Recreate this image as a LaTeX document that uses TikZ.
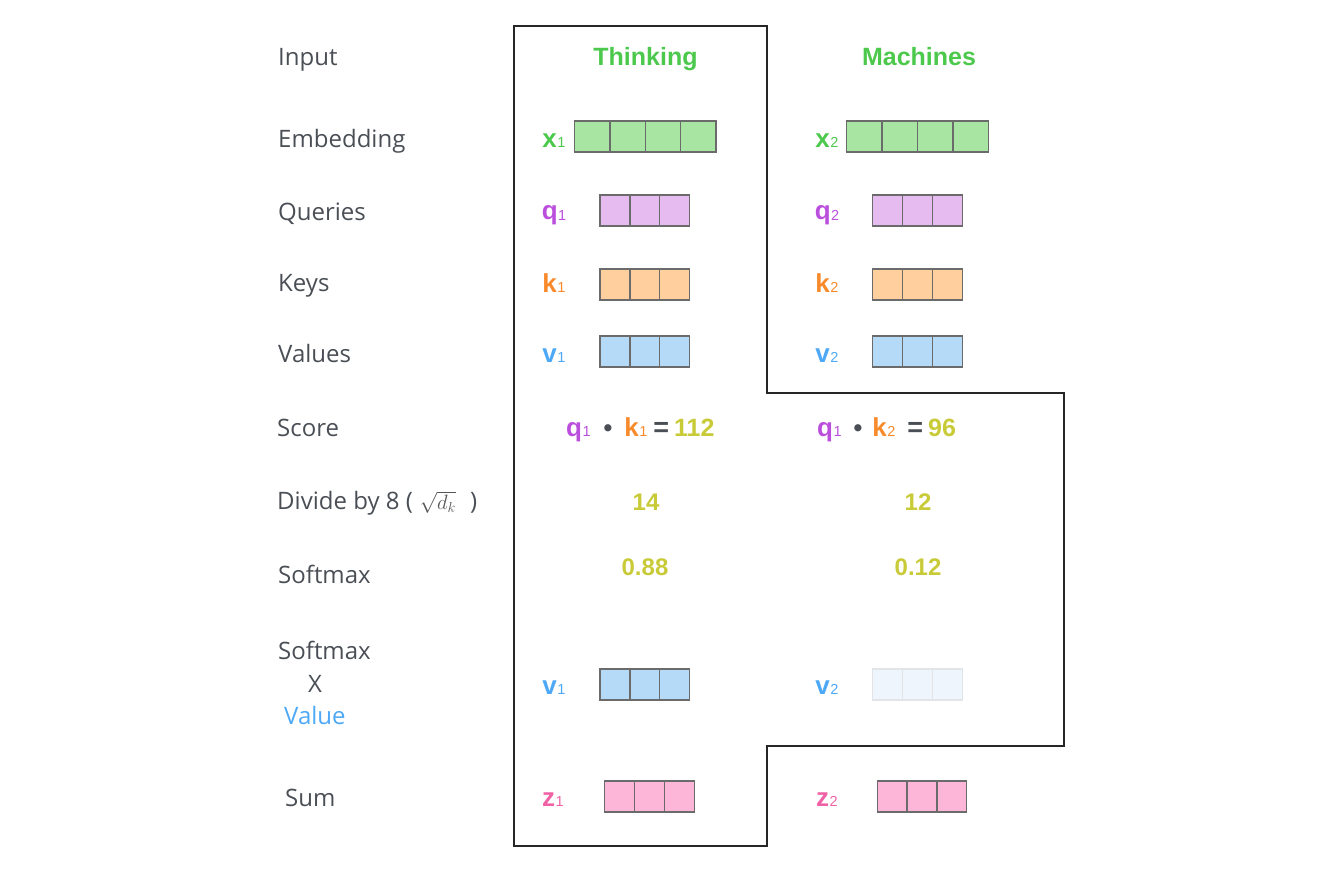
\documentclass[tikz,border=0pt]{standalone}
\usepackage{fontspec}
\setmainfont{Open Sans}
\newfontfamily\hv{Liberation Sans}
\usetikzlibrary{calc}
\definecolor{labgray}{HTML}{4A4F56}
\definecolor{dgray}{HTML}{555555}
\definecolor{tgreen}{HTML}{4CC94C}
\definecolor{fgreen}{HTML}{A8E5A3}
\definecolor{tpurple}{HTML}{BB4FDD}
\definecolor{fpurple}{HTML}{E6BCF0}
\definecolor{torange}{HTML}{F98A2C}
\definecolor{forange}{HTML}{FFD09E}
\definecolor{tblue}{HTML}{4DA8F5}
\definecolor{fblue}{HTML}{B5DAF8}
\definecolor{tpink}{HTML}{F062A6}
\definecolor{fpink}{HTML}{FDB5D8}
\definecolor{tolive}{HTML}{C8CB37}
\definecolor{ffaint}{HTML}{EEF5FD}
\definecolor{bfaint}{HTML}{E2E4E6}
\definecolor{cellborder}{HTML}{6B6B6B}
\newcommand\vsym[3]{{\color{#1}\hv\bfseries\fontsize{26}{28}\selectfont #2\hspace{0.5pt}\raisebox{-0.6pt}{\fontsize{14.5}{15}\selectfont\mdseries #3}}}
\newcommand\vecbox[8]{% name, cx, cy, ncells, cellwidth, fill, lastdivider, border
  \node[cellbox, draw=#8, fill=#6, minimum width=#4*#5pt] (#1) at (#2,#3) {};
  \foreach \i in {1,...,#7}
    \draw[draw=#8, line width=1.3pt] ($(#1.north west)+(\i*#5,0)$) -- ($(#1.south west)+(\i*#5,0)$);
}
\newcommand\opsym[1]{{\color{labgray}\hv\bfseries #1}}
\tikzset{
  cellbox/.style={rectangle, line width=1.3pt, inner sep=0pt, outer sep=0pt, minimum height=31pt},
  lab/.style={anchor=base west, inner sep=0pt, text=labgray, font=\fontsize{24}{28}\selectfont},
  head/.style={anchor=base, inner sep=0pt, text=tgreen, font=\hv\bfseries\fontsize{25}{28}\selectfont},
  sym/.style={anchor=base, inner sep=0pt, font=\fontsize{24}{28}\selectfont},
  scorest/.style={anchor=base west, inner sep=0pt, font=\hv\bfseries\fontsize{25}{28}\selectfont},
  num/.style={anchor=base, inner sep=0pt, text=tolive, font=\hv\bfseries\fontsize{24}{28}\selectfont},
  outline/.style={draw=black!85, line width=1.4pt, line join=miter}
}
\begin{document}
\begin{tikzpicture}[x=1pt,y=-1pt]
\useasboundingbox (0,0) rectangle (1338,878);
% outline
\draw[outline] (514,26) -- (767,26) -- (767,393) -- (1064,393) -- (1064,746)
  -- (767,746) -- (767,846) -- (514,846) -- cycle;
% left labels
\node[lab] (inp) at (278,65) {Input};
\node[lab] (emb) at (278,147) {Embedding};
\node[lab] (qry) at (278,220) {Queries};
\node[lab] (key) at (278,291) {Keys};
\node[lab] (val) at (278,362) {Values};
\node[lab] (scr) at (277,436) {Score};
\node[lab] (div) at (277,509) {Divide by 8 (\hspace{7pt}{\fontsize{21}{22}\selectfont\color{dgray}$\sqrt{d_k}$}\hspace{14pt})};
\node[lab] (smx) at (278,583) {Softmax};
\node[lab] (smx2) at (278,659) {Softmax};
\node[lab] (xmul) at (308,692) {X};
\node[lab, text=tblue] (valtxt) at (284,724) {Value};
\node[lab] (sum) at (285,806) {Sum};
% headers
\node[head] (think) at (645.5,65) {Thinking};
\node[head] (mach) at (919,65) {Machines};
% embeddings
\vecbox{x1}{645.3}{136.5}{4}{35.4}{fgreen}{3}{cellborder}
\vecbox{x2}{917.5}{136.5}{4}{35.4}{fgreen}{3}{cellborder}
\node[sym] (lx1) at (554,147) {\vsym{tgreen}{x}{1}};
\node[sym] (lx2) at (827,147) {\vsym{tgreen}{x}{2}};
% queries
\vecbox{q1}{644.8}{210.5}{3}{29.8}{fpurple}{2}{cellborder}
\vecbox{q2}{917.5}{210.5}{3}{29.8}{fpurple}{2}{cellborder}
\node[sym] (lq1) at (554,219.5) {\vsym{tpurple}{q}{1}};
\node[sym] (lq2) at (827,219.5) {\vsym{tpurple}{q}{2}};
% keys
\vecbox{k1}{644.8}{284.5}{3}{29.8}{forange}{2}{cellborder}
\vecbox{k2}{917.5}{284.5}{3}{29.8}{forange}{2}{cellborder}
\node[sym] (lk1) at (554,292) {\vsym{torange}{k}{1}};
\node[sym] (lk2) at (827,292) {\vsym{torange}{k}{2}};
% values
\vecbox{v1}{644.8}{351.5}{3}{29.8}{fblue}{2}{cellborder}
\vecbox{v2}{917.5}{351.5}{3}{29.8}{fblue}{2}{cellborder}
\node[sym] (lv1) at (554,362) {\vsym{tblue}{v}{1}};
\node[sym] (lv2) at (827,362) {\vsym{tblue}{v}{2}};
% score
\node[scorest] (s1) at (566,436) {\vsym{tpurple}{q}{1}\hspace{13pt}\opsym{•}\hspace{12pt}\vsym{torange}{k}{1}\hspace{6pt}\opsym{\fontsize{27}{28}\selectfont=}\hspace{5pt}{\color{tolive}112}};
\node[scorest] (s2) at (817,436) {\vsym{tpurple}{q}{1}\hspace{12pt}\opsym{•}\hspace{10pt}\vsym{torange}{k}{2}\hspace{12pt}\opsym{\fontsize{27}{28}\selectfont=}\hspace{5pt}{\color{tolive}96}};
% divide
\node[num] (d1) at (646,510) {14};
\node[num] (d2) at (918,510) {12};
% softmax
\node[num] (sm1) at (645,575) {0.88};
\node[num] (sm2) at (918,575) {0.12};
% softmax x value
\vecbox{v1b}{644.8}{684.5}{3}{29.8}{fblue}{2}{cellborder}
\vecbox{v2b}{917.5}{684.5}{3}{29.8}{ffaint}{2}{bfaint}
\node[sym] (lv1b) at (554,694) {\vsym{tblue}{v}{1}};
\node[sym] (lv2b) at (827,694) {\vsym{tblue}{v}{2}};
% sum
\vecbox{z1}{649.5}{796.5}{3}{29.8}{fpink}{2}{cellborder}
\vecbox{z2}{922}{796.5}{3}{29.8}{fpink}{2}{cellborder}
\node[sym] (lz1) at (553,806) {\vsym{tpink}{z}{1}};
\node[sym] (lz2) at (827,806) {\vsym{tpink}{z}{2}};
\end{tikzpicture}
\end{document}
